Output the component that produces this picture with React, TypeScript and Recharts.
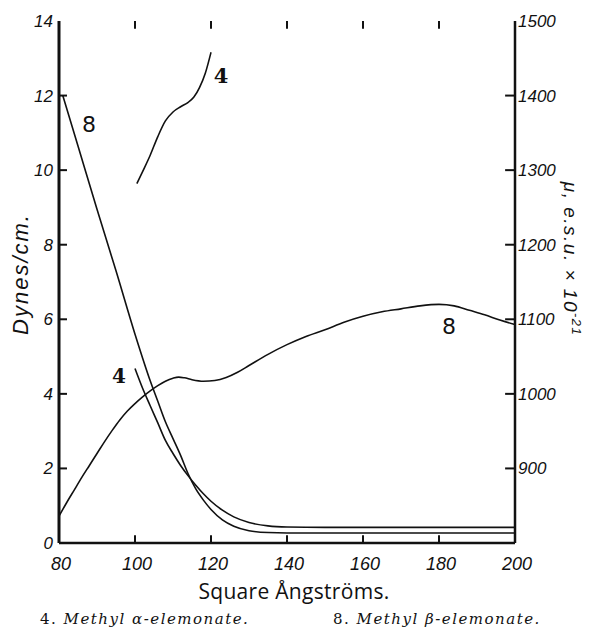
import React from "react";
import { ComposedChart, Line, XAxis, YAxis, ReferenceLine } from "recharts";

// axis ticks
const xTicks = [80, 100, 120, 140, 160, 180, 200];
const leftTicks = [0, 2, 4, 6, 8, 10, 12, 14];
const rightTicks = [800, 900, 1000, 1100, 1200, 1300, 1400, 1500];

// surface pressure (dynes/cm), compound 8
const area8P = [81, 85, 90, 95, 100, 104, 106, 108, 110, 112, 114, 116, 118, 120, 123, 126, 130, 135, 140, 200];
const press8 = [12.0, 10.65, 8.95, 7.3, 5.6, 4.35, 3.8, 3.25, 2.8, 2.35, 1.85, 1.45, 1.15, 0.9, 0.62, 0.45, 0.33, 0.28, 0.27, 0.27];

// surface pressure (dynes/cm), compound 4
const area4P = [100, 102, 104, 106, 108, 110, 112, 114, 116, 118, 120, 123, 126, 130, 135, 140, 150, 200];
const press4 = [4.68, 4.15, 3.68, 3.22, 2.75, 2.4, 2.08, 1.8, 1.55, 1.32, 1.12, 0.88, 0.7, 0.55, 0.46, 0.43, 0.42, 0.42];

// surface moment (e.s.u. x 10^-21), compound 8
const area8M = [80, 82, 84, 86, 88, 90, 92, 94, 96, 98, 100, 102, 104, 106, 108, 110, 111.5, 113, 115, 118, 121, 124, 127, 130, 135, 140, 145, 150, 155, 160, 165, 170, 175, 180, 184, 188, 192, 196, 200];
const mu8 = [836, 854, 871, 888, 904, 920, 936, 951, 965, 977, 987, 996, 1004, 1011, 1017, 1021, 1022.5, 1021.5, 1019, 1017, 1018, 1022, 1029, 1038, 1053, 1066, 1077, 1086, 1096, 1104, 1110, 1114, 1118, 1120, 1118, 1112, 1106, 1099, 1093];

// surface moment, compound 4
const area4M = [100.5, 102, 104, 106, 108, 110, 112, 114, 115.5, 117, 118.5, 120];
const mu4 = [1282, 1298, 1320, 1345, 1366, 1378, 1385, 1391, 1398, 1411, 1430, 1458];

const zip = (xs: number[], ys: number[]) => xs.map((x, i) => ({ x, y: ys[i] }));

const ink = "#111";
const tickFont = { fontFamily: "Liberation Sans", fontStyle: "italic" as const, fontSize: 17, fill: ink };

function BottomTick(props: any) {
    const { x, y, payload } = props;
    return (
        <text x={x + 2} y={y + 27} textAnchor="middle" {...tickFont} fontSize={18}>
            {payload.value}
        </text>
    );
}

function LeftTick(props: any) {
    const { x, y, payload } = props;
    return (
        <text x={x - 6} y={y + 6} textAnchor="end" {...tickFont}>
            {payload.value}
        </text>
    );
}

function RightTick(props: any) {
    const { x, y, payload } = props;
    if (payload.value === 800) return <g />;
    return (
        <text x={x + 3} y={y + 6} textAnchor="start" {...tickFont}>
            {payload.value}
        </text>
    );
}

export default function App() {
    const lineProps = {
        type: "monotone" as const,
        dataKey: "y",
        stroke: ink,
        strokeWidth: 1.6,
        dot: false,
        activeDot: false,
        isAnimationActive: false,
        xAxisId: "b",
    };
    const inX = xTicks.slice(1, -1);
    const inL = leftTicks.slice(1, -1);
    const inR = rightTicks.slice(1, -1);

    return (
        <div style={{ position: "absolute", left: 0, top: 0, width: 591, height: 630, background: "#fff" }}>
            <ComposedChart width={591} height={630} margin={{ top: 21, right: 0, bottom: 57, left: 0 }}>
                <XAxis
                    xAxisId="b"
                    type="number"
                    dataKey="x"
                    domain={[80, 200]}
                    ticks={xTicks}
                    interval={0}
                    allowDataOverflow
                    orientation="bottom"
                    height={30}
                    tickSize={0}
                    tickMargin={0}
                    tickLine={false}
                    axisLine={{ stroke: ink, strokeWidth: 2.5 }}
                    tick={(p: any) => <BottomTick {...p} />}
                />
                <XAxis
                    xAxisId="t"
                    type="number"
                    dataKey="x"
                    domain={[80, 200]}
                    ticks={xTicks}
                    allowDataOverflow
                    orientation="top"
                    height={0}
                    tickSize={0}
                    tickLine={false}
                    axisLine={{ stroke: ink, strokeWidth: 2.2 }}
                    tick={false}
                />
                <YAxis
                    yAxisId="l"
                    orientation="left"
                    type="number"
                    width={59}
                    domain={[0, 14]}
                    ticks={leftTicks}
                    interval={0}
                    allowDataOverflow
                    tickSize={0}
                    tickMargin={0}
                    tickLine={false}
                    axisLine={{ stroke: ink, strokeWidth: 3 }}
                    tick={(p: any) => <LeftTick {...p} />}
                />
                <YAxis
                    yAxisId="r"
                    orientation="right"
                    type="number"
                    width={76}
                    domain={[800, 1500]}
                    ticks={rightTicks}
                    interval={0}
                    allowDataOverflow
                    tickSize={0}
                    tickMargin={0}
                    tickLine={false}
                    axisLine={{ stroke: ink, strokeWidth: 2.5 }}
                    tick={(p: any) => <RightTick {...p} />}
                />

                {/* inward tick marks */}
                {inX.map(v => (
                    <ReferenceLine key={`b${v}`} xAxisId="b" yAxisId="l" stroke={ink} strokeWidth={2}
                        segment={[{ x: v, y: 0 }, { x: v, y: 0.21 }]} />
                ))}
                {inX.map(v => (
                    <ReferenceLine key={`t${v}`} xAxisId="b" yAxisId="l" stroke={ink} strokeWidth={2}
                        segment={[{ x: v, y: 14 }, { x: v, y: 13.79 }]} />
                ))}
                {inL.map(v => (
                    <ReferenceLine key={`l${v}`} xAxisId="b" yAxisId="l" stroke={ink} strokeWidth={2}
                        segment={[{ x: 80, y: v }, { x: 82.1, y: v }]} />
                ))}
                {inR.map(v => (
                    <ReferenceLine key={`r${v}`} xAxisId="b" yAxisId="r" stroke={ink} strokeWidth={2}
                        segment={[{ x: 197.4, y: v }, { x: 200, y: v }]} />
                ))}

                <Line {...lineProps} yAxisId="l" data={zip(area8P, press8)} />
                <Line {...lineProps} yAxisId="l" data={zip(area4P, press4)} />
                <Line {...lineProps} yAxisId="r" data={zip(area8M, mu8)} />
                <Line {...lineProps} yAxisId="r" data={zip(area4M, mu4)} />
            </ComposedChart>
            <svg
                width={591}
                height={630}
                style={{ position: "absolute", left: 0, top: 0, pointerEvents: "none" }}
            >
                <g fill={ink}>
                    <text x={89} y={132} textAnchor="middle" fontFamily="DejaVu Sans" fontSize={22}>8</text>
                    <text x={449} y={334} textAnchor="middle" fontFamily="DejaVu Sans" fontSize={22}>8</text>
                    <text x={221} y={83} textAnchor="middle" fontFamily="DejaVu Serif" fontWeight="bold" fontSize={21}>4</text>
                    <text x={119} y={383} textAnchor="middle" fontFamily="DejaVu Serif" fontWeight="bold" fontSize={20}>4</text>

                    <text
                        transform="translate(28 274) rotate(-90)"
                        textAnchor="middle"
                        fontFamily="Liberation Sans"
                        fontStyle="italic"
                        fontSize={22}
                        letterSpacing={2}
                    >
                        Dynes/cm.
                    </text>
                    <text
                        transform="translate(564 259) rotate(90)"
                        textAnchor="middle"
                        fontFamily="Liberation Sans"
                        fontStyle="italic"
                        fontSize={19}
                        letterSpacing={1.5}
                    >
                        μ, e.s.u. × 10<tspan fontSize={13} dy={-8}>-21</tspan>
                    </text>

                    <text x={294} y={599} textAnchor="middle" fontFamily="Open Sans" fontSize={21} letterSpacing={0.3}>
                        Square Ångströms.
                    </text>

                    <text x={40} y={624} fontFamily="DejaVu Serif" fontSize={15} letterSpacing={1.5}>
                        4. <tspan fontStyle="italic">Methyl α-elemonate.</tspan>
                    </text>
                    <text x={333} y={624} fontFamily="DejaVu Serif" fontSize={15} letterSpacing={1.5}>
                        8. <tspan fontStyle="italic">Methyl β-elemonate.</tspan>
                    </text>
                </g>
            </svg>
        </div>
    );
}
